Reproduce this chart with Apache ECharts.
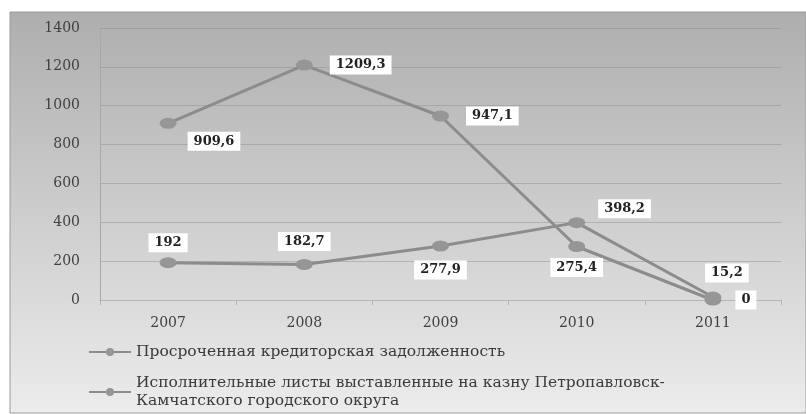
<!DOCTYPE html>
<html><head><meta charset="utf-8">
<script src="https://cdn.jsdelivr.net/npm/echarts@6/dist/echarts.min.js"></script>
<style>html,body{margin:0;padding:0;background:#fff}#c{width:806px;height:414px}</style>
</head><body><div id="c"></div>
<script>
const years = ['2007','2008','2009','2010','2011'];
const overdue = [909.6, 1209.3, 947.1, 275.4, 0];
const writs = [192, 182.7, 277.9, 398.2, 15.2];
const yTicks = {min: 0, max: 1400, interval: 200};
const seriesNames = ['Просроченная кредиторская задолженность',
  'Исполнительные листы выставленные на казну Петропавловск-\nКамчатского городского округа'];

const overduePos = [
  {position:'right', offset:[6,18]},
  {position:'right', distance:17},
  {position:'right', distance:17},
  {position:'bottom', distance:6},
  {position:'right', distance:14}
];
const writsPos = [
  {position:'top', distance:5},
  {position:'top', distance:8},
  {position:'bottom', distance:9},
  {position:'right', offset:[8,-14]},
  {position:'top', offset:[14,-4]}
];
const serif = '"DejaVu Serif", "Liberation Serif", serif';
const labelBase = {show:true, backgroundColor:'#fff', padding:[3,6], color:'#222',
  fontFamily:serif, fontWeight:'bold', fontSize:13,
  formatter: p => String(p.value).replace('.', ',')};
function mk(vals, pos){ return vals.map((v,i)=>({value:v, label:Object.assign({}, labelBase, pos[i])})); }
const legendText = {color:'#3a3a3a', fontFamily:serif, fontSize:15.5, lineHeight:18};

const chart = echarts.init(document.getElementById('c'));
chart.setOption({
  animation:false,
  graphic:[{type:'rect', z:-10, shape:{x:10,y:12,width:796,height:401},
    style:{fill:new echarts.graphic.LinearGradient(0,0,0,1,[{offset:0,color:'#aeaeae'},{offset:0.5,color:'#cdcdcd'},{offset:1,color:'#ececec'}]),
      stroke:'#9a9a9a', lineWidth:1}}],
  grid:{left:100, right:25, top:28, bottom:114},
  xAxis:{type:'category', data:years, boundaryGap:true,
    axisLine:{lineStyle:{color:'#b5b5b5'}}, axisTick:{show:true, lineStyle:{color:'#b5b5b5'}},
    axisLabel:{color:'#404040', fontFamily:serif, fontSize:14, margin:16}},
  yAxis:{type:'value', min:yTicks.min, max:yTicks.max, interval:yTicks.interval,
    axisLine:{show:true, lineStyle:{color:'#a8a8a8'}},
    splitLine:{lineStyle:{color:'rgba(140,140,140,0.45)'}},
    axisLabel:{color:'#404040', fontFamily:serif, fontSize:14, margin:20, formatter: v => String(v)}},
  legend:[
    {left:88, top:343, padding:0, itemWidth:42, itemHeight:10, textStyle:legendText, data:[seriesNames[0]]},
    {left:88, top:374, padding:0, itemWidth:42, itemHeight:10, textStyle:legendText, data:[seriesNames[1]]}
  ],
  series:[
    {name:seriesNames[0], type:'line', data:mk(overdue, overduePos), symbol:'circle', symbolSize:[17,11],
     lineStyle:{color:'#8c8c8c', width:3}, itemStyle:{color:'#969696'}},
    {name:seriesNames[1], type:'line', data:mk(writs, writsPos), symbol:'circle', symbolSize:[17,11],
     lineStyle:{color:'#8c8c8c', width:3}, itemStyle:{color:'#969696'}}
  ]
});
</script></body></html>
